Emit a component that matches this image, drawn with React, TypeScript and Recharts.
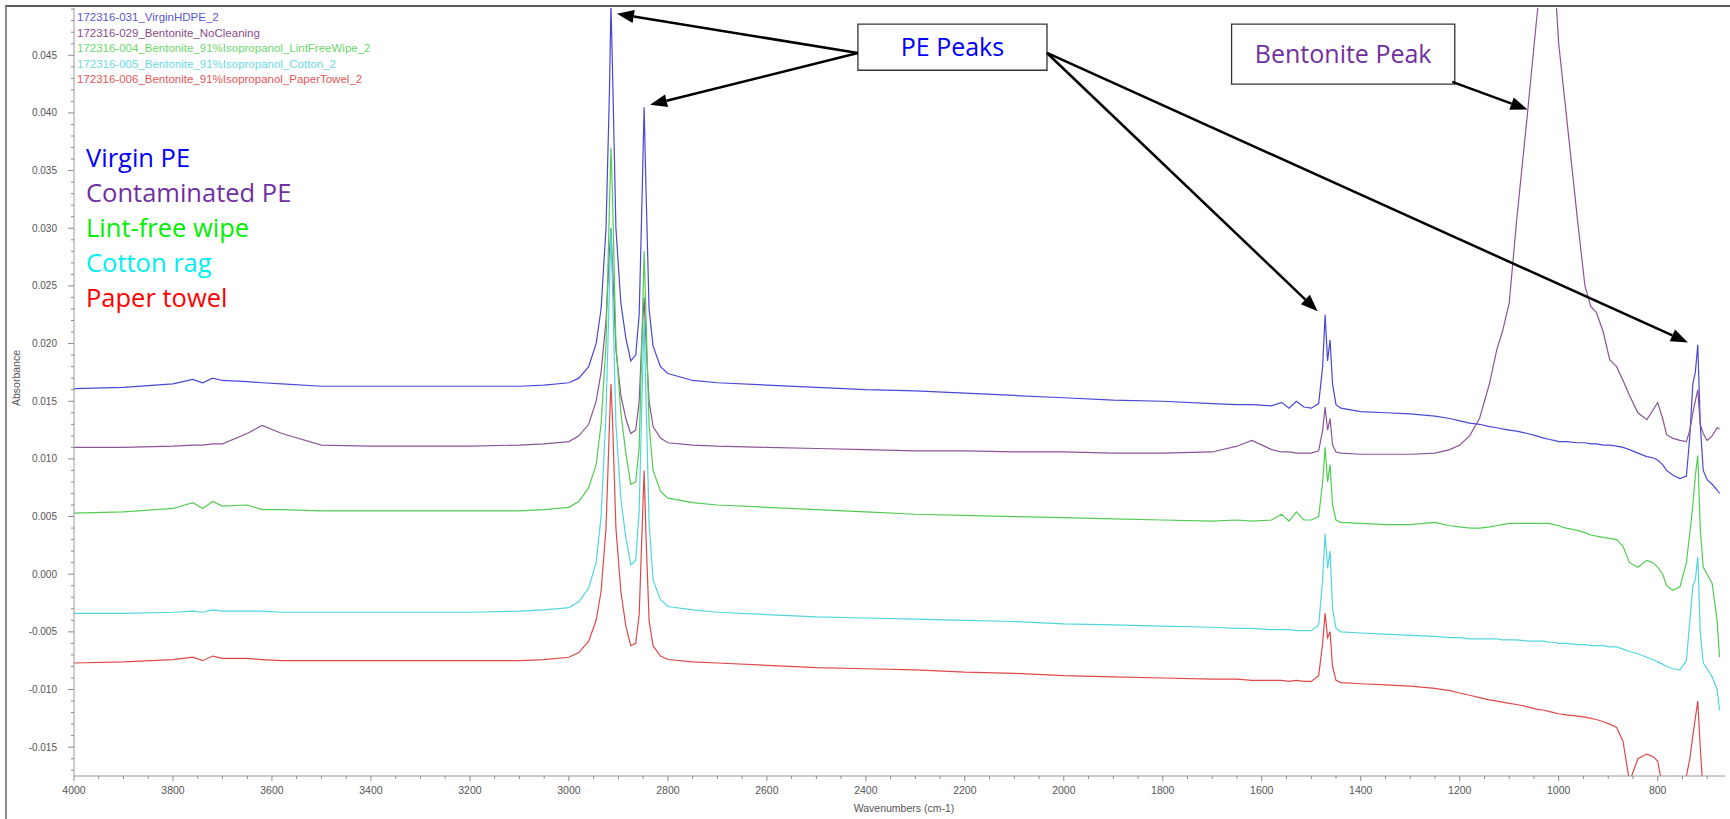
import React from 'react';
import {
  LineChart,
  Line,
  XAxis,
  YAxis,
  ReferenceArea,
  ReferenceLine,
} from 'recharts';

// wavenumber grid (cm-1), dense around the PE and bentonite bands
const wavenumbers = [
  4000, 3900, 3800, 3760, 3740, 3720, 3700, 3650, 3620, 3580,
  3500, 3400, 3300, 3200, 3100, 3050, 3000, 2980, 2960, 2945,
  2935, 2925, 2918, 2915, 2912, 2905, 2895, 2885, 2875, 2865,
  2858, 2852, 2848, 2844, 2838, 2830, 2815, 2800, 2750, 2700,
  2600, 2500, 2400, 2300, 2200, 2100, 2000, 1900, 1800, 1700,
  1650, 1620, 1580, 1560, 1545, 1530, 1515, 1500, 1485, 1477,
  1472, 1467, 1462, 1457, 1450, 1440, 1400, 1350, 1300, 1250,
  1220, 1200, 1180, 1160, 1140, 1125, 1114, 1100, 1085, 1063,
  1045, 1030, 1020, 1010, 1000, 985, 962, 947, 935, 924,
  910, 897, 883, 870, 857, 840, 822, 810, 800, 790,
  782, 770, 755, 742, 735, 729, 724, 719, 714, 708,
  700, 690, 680, 675,
];

const virginPE = [
  0.0161, 0.0162, 0.0165, 0.0169, 0.0166, 0.017, 0.0168, 0.0167, 0.0166, 0.0165,
  0.0163, 0.0163, 0.0163, 0.0163, 0.0163, 0.0164, 0.0166, 0.017, 0.018, 0.02,
  0.023, 0.03, 0.042, 0.0495, 0.044, 0.03, 0.0235, 0.0205, 0.0185, 0.019,
  0.0225, 0.033, 0.0405, 0.033, 0.023, 0.0198, 0.018, 0.0174, 0.0168, 0.0166,
  0.0164, 0.0162, 0.016, 0.0159, 0.0157, 0.0155, 0.0153, 0.0151, 0.015, 0.0148,
  0.0147, 0.0147, 0.0146, 0.0149, 0.0144, 0.015, 0.0145, 0.0144, 0.0148, 0.018,
  0.0225, 0.0185, 0.0203, 0.0165, 0.0147, 0.0144, 0.0141, 0.014, 0.0139, 0.0137,
  0.0135, 0.0133, 0.0131, 0.013, 0.0128, 0.0127, 0.0126, 0.0125, 0.0124, 0.0122,
  0.012, 0.0118, 0.0117, 0.0116, 0.0115, 0.0115, 0.0114, 0.0114, 0.0113, 0.0113,
  0.0112, 0.0112, 0.0111, 0.011, 0.0108, 0.0105, 0.0102, 0.0101, 0.0099, 0.0095,
  0.009, 0.0086, 0.0083, 0.0085, 0.012, 0.0165, 0.0175, 0.0199, 0.013, 0.009,
  0.0082, 0.0078, 0.0073, 0.007,
];

const contaminatedPE = [
  0.011, 0.011, 0.0111, 0.0112, 0.0112, 0.0113, 0.0113, 0.0122, 0.0129, 0.0122,
  0.0112, 0.0111, 0.0111, 0.0111, 0.0112, 0.0113, 0.0115, 0.012, 0.013, 0.015,
  0.0175, 0.022, 0.028, 0.03, 0.027, 0.0195, 0.0155, 0.0135, 0.0122, 0.0125,
  0.015, 0.021, 0.024, 0.02, 0.015, 0.0128, 0.0118, 0.0114, 0.0112, 0.0111,
  0.011, 0.0109, 0.0108, 0.0107, 0.0107, 0.0106, 0.0106, 0.0105, 0.0105, 0.0106,
  0.0111, 0.0116, 0.0108, 0.0106, 0.0106, 0.0105, 0.0105, 0.0105, 0.0107, 0.0125,
  0.0145, 0.0125, 0.0135, 0.0112, 0.0106, 0.0105, 0.0104, 0.0104, 0.0104, 0.0105,
  0.0108, 0.0112, 0.012, 0.0135, 0.0165, 0.0195, 0.021, 0.0235, 0.0307, 0.04,
  0.048, 0.054, 0.056, 0.053, 0.046, 0.04, 0.0307, 0.025, 0.0232, 0.0227,
  0.021, 0.0186, 0.018, 0.0168, 0.0155, 0.014, 0.0134, 0.0142, 0.0149, 0.0135,
  0.0121, 0.0118, 0.0116, 0.0115, 0.0125, 0.014, 0.015, 0.016, 0.013, 0.0122,
  0.0116, 0.012, 0.0127, 0.0126,
];

const lintFreeWipe = [
  0.0053, 0.0054, 0.0057, 0.0062, 0.0057, 0.0063, 0.0059, 0.006, 0.0056, 0.0056,
  0.0055, 0.0055, 0.0055, 0.0055, 0.0055, 0.0056, 0.0058, 0.0063, 0.0075, 0.0095,
  0.013, 0.02, 0.032, 0.037, 0.033, 0.02, 0.014, 0.0105, 0.0078, 0.008,
  0.011, 0.021, 0.028, 0.022, 0.013, 0.009, 0.0072, 0.0066, 0.0062, 0.006,
  0.0058, 0.0056, 0.0054, 0.0052, 0.0051, 0.005, 0.0049, 0.0048, 0.0047, 0.0046,
  0.0047, 0.0046, 0.0047, 0.0052, 0.0046, 0.0054, 0.0047, 0.0047, 0.005, 0.008,
  0.011, 0.008, 0.0095, 0.006, 0.0047, 0.0045, 0.0044, 0.0043, 0.0043, 0.0045,
  0.0042, 0.0041, 0.004, 0.004, 0.0041, 0.0042, 0.0043, 0.0044, 0.0044, 0.0044,
  0.0044, 0.0044, 0.0044, 0.0043, 0.0042, 0.004, 0.0038, 0.0036, 0.0034, 0.0033,
  0.0032, 0.0031, 0.003, 0.0024, 0.001, 0.0006, 0.0012, 0.001, 0.0006, 0.0,
  -0.001, -0.0014, -0.0011, 0.001, 0.0036, 0.006, 0.0085, 0.0103, 0.004, 0.0006,
  0.0, -0.0008, -0.004, -0.0072,
];

const cottonRag = [
  -0.0034, -0.0034, -0.0033, -0.0032, -0.0033, -0.0031, -0.0032, -0.0032, -0.0032, -0.0033,
  -0.0033, -0.0033, -0.0033, -0.0033, -0.0032, -0.0031, -0.0029, -0.0024, -0.0012, 0.001,
  0.005, 0.014, 0.025, 0.03, 0.025, 0.013, 0.0065, 0.0032, 0.0008, 0.0012,
  0.0055, 0.016, 0.022, 0.015, 0.0045, -0.0005, -0.0022, -0.0028, -0.0031, -0.0033,
  -0.0035, -0.0037, -0.0038, -0.0039, -0.004, -0.0041, -0.0043, -0.0044, -0.0045, -0.0046,
  -0.0047, -0.0047, -0.0048, -0.0048, -0.0048, -0.0049, -0.0049, -0.0049, -0.0044, -0.0005,
  0.0035, 0.0005, 0.002, -0.003, -0.0047, -0.005, -0.0051, -0.0052, -0.0053, -0.0054,
  -0.0055, -0.0055, -0.0056, -0.0056, -0.0056, -0.0056, -0.0057, -0.0057, -0.0057, -0.0058,
  -0.0058, -0.0058, -0.0059, -0.0059, -0.006, -0.006, -0.0061, -0.0061, -0.0062, -0.0062,
  -0.0062, -0.0063, -0.0063, -0.0065, -0.0067, -0.0069, -0.0072, -0.0074, -0.0076, -0.0078,
  -0.008, -0.0082, -0.0083, -0.0075, -0.004, -0.001, -0.0005, 0.0015, -0.005, -0.0077,
  -0.0082, -0.0089, -0.01, -0.0118,
];

const paperTowel = [
  -0.0077, -0.0076, -0.0074, -0.0072, -0.0075, -0.0071, -0.0073, -0.0073, -0.0074, -0.0075,
  -0.0075, -0.0075, -0.0075, -0.0075, -0.0075, -0.0074, -0.0072, -0.0068, -0.0058, -0.004,
  -0.0015, 0.004, 0.013, 0.0165, 0.0135, 0.004, -0.0015, -0.0045, -0.0062, -0.006,
  -0.0035, 0.004, 0.009, 0.003, -0.004, -0.0062, -0.0071, -0.0074, -0.0076, -0.0077,
  -0.0079, -0.0081, -0.0082, -0.0083, -0.0085, -0.0086, -0.0088, -0.0089, -0.009, -0.0091,
  -0.0091, -0.0092, -0.0092, -0.0092, -0.0093, -0.0092, -0.0093, -0.0093, -0.0088, -0.006,
  -0.0034, -0.0055, -0.005, -0.008, -0.0092, -0.0094, -0.0095, -0.0096, -0.0097, -0.0099,
  -0.0101, -0.0103, -0.0105, -0.0107, -0.0109, -0.011, -0.0111, -0.0112, -0.0113, -0.0115,
  -0.0117, -0.0118, -0.0119, -0.012, -0.0121, -0.0122, -0.0123, -0.0124, -0.0125, -0.0126,
  -0.0128, -0.013, -0.0133, -0.0145, -0.018, -0.016, -0.0156, -0.0158, -0.0162, -0.0185,
  -0.0195, -0.02, -0.0195, -0.0175, -0.016, -0.014, -0.0125, -0.011, -0.015, -0.019,
  -0.021, -0.0215, -0.022, -0.022,
];

const xMajorTicks = [4000, 3800, 3600, 3400, 3200, 3000, 2800, 2600, 2400, 2200, 2000, 1800, 1600, 1400, 1200, 1000, 800];
const yMajorTicks = [0.045, 0.04, 0.035, 0.03, 0.025, 0.02, 0.015, 0.01, 0.005, 0, -0.005, -0.01, -0.015];

const fileNames = [
  '172316-031_VirginHDPE_2',
  '172316-029_Bentonite_NoCleaning',
  '172316-004_Bentonite_91%Isopropanol_LintFreeWipe_2',
  '172316-005_Bentonite_91%Isopropanol_Cotton_2',
  '172316-006_Bentonite_91%Isopropanol_PaperTowel_2',
];
const sampleNames = ['Virgin PE', 'Contaminated PE', 'Lint-free wipe', 'Cotton rag', 'Paper towel'];
const lineColors = ['#4848d4', '#8c5498', '#52cc52', '#52d6de', '#e04848'];
const fileColors = ['#5858d0', '#8c4a8c', '#6cd86c', '#6cd8e8', '#e05858'];
const labelColors = ['#0000ff', '#7030a0', '#00ee00', '#00eeee', '#ff0000'];
const seriesKeys = ['virgin', 'contaminated', 'lint', 'cotton', 'paper'];

const rows = wavenumbers.map((w, i) => ({
  w,
  virgin: virginPE[i],
  contaminated: contaminatedPE[i],
  lint: lintFreeWipe[i],
  cotton: cottonRag[i],
  paper: paperTowel[i],
}));

// minor ticks: every 50 cm-1 and every 0.001 absorbance
const xTicks: number[] = [];
for (let w = 4000; w >= 700; w -= 50) xTicks.push(w);
const yTicks: number[] = [];
for (let k = -17; k <= 49; k++) yTicks.push(k / 1000);

// annotation boxes and arrows, in data coordinates
const boxes = [
  { text: 'PE Peaks', color: '#0000ff', x1: 2416, x2: 2034, y1: 0.0477, y2: 0.0437 },
  { text: 'Bentonite Peak', color: '#7030a0', x1: 1661, x2: 1210, y1: 0.0477, y2: 0.0425 },
];
const arrows = [
  { from: [2416, 0.0452], to: [2903, 0.0486] },
  { from: [2416, 0.0452], to: [2836, 0.0407] },
  { from: [2034, 0.0452], to: [1487, 0.0228] },
  { from: [2034, 0.0452], to: [739, 0.0201] },
  { from: [1215, 0.0427], to: [1063, 0.0403] },
];

const tickFont = 'Liberation Sans, Arial, sans-serif';

const XTick = (props: any) => {
  const { x, y, payload } = props;
  const major = xMajorTicks.includes(payload.value);
  return (
    <g>
      <line x1={x} y1={y} x2={x} y2={y + (major ? 5 : 3)} stroke="#8a8a8a" />
      {major && (
        <text x={x} y={y + 18} textAnchor="middle" fontSize={10.5} fill="#555" fontFamily={tickFont}>
          {payload.value}
        </text>
      )}
    </g>
  );
};

const YTick = (props: any) => {
  const { x, y, payload } = props;
  const v = payload.value as number;
  const major = yMajorTicks.some((t) => Math.abs(t - v) < 1e-7);
  return (
    <g>
      <line x1={x} y1={y} x2={x - (major ? 6 : 3)} y2={y} stroke="#8a8a8a" />
      {major && (
        <text x={x - 17} y={y + 3.5} textAnchor="end" fontSize={10} fill="#555" fontFamily={tickFont}>
          {v.toFixed(3)}
        </text>
      )}
    </g>
  );
};

const Arrow = (p: any) => {
  const { x1, y1, x2, y2 } = p;
  const ang = Math.atan2(y2 - y1, x2 - x1);
  const len = 17;
  const half = 6.5;
  const bx = x2 - len * Math.cos(ang);
  const by = y2 - len * Math.sin(ang);
  const px = -Math.sin(ang) * half;
  const py = Math.cos(ang) * half;
  return (
    <g>
      <line x1={x1} y1={y1} x2={bx} y2={by} stroke="#000" strokeWidth={2.5} />
      <polygon points={`${x2},${y2} ${bx + px},${by + py} ${bx - px},${by - py}`} fill="#000" />
    </g>
  );
};

export default function App() {
  return (
    <div
      style={{
        position: 'absolute',
        left: 0,
        top: 0,
        width: 1730,
        height: 819,
        background: '#fff',
        overflow: 'hidden',
      }}
    >
      {/* window frame */}
      <div style={{ position: 'absolute', left: 5, top: 5, width: 1740, height: 900, borderTop: '2px solid #5a5a5a', borderLeft: '2px solid #8a8a8a' }} />

      <LineChart
        width={1730}
        height={819}
        data={rows}
        margin={{ top: 8, right: 5, left: 0, bottom: 0 }}
        style={{ position: 'absolute', left: 0, top: 0 }}
      >
        <XAxis
          dataKey="w"
          type="number"
          domain={[664, 4000]}
          reversed
          allowDataOverflow
          ticks={xTicks}
          interval={0}
          height={43}
          tickSize={0}
          tickMargin={0}
          tick={<XTick />}
          axisLine={{ stroke: '#9a9a9a' }}
        />
        <YAxis
          type="number"
          domain={[-0.0175, 0.0491]}
          allowDataOverflow
          ticks={yTicks}
          interval={0}
          width={74}
          tickSize={0}
          tickMargin={0}
          tick={<YTick />}
          axisLine={{ stroke: '#9a9a9a' }}
        />
        {seriesKeys.map((k, i) => (
          <Line
            key={k}
            type="linear"
            dataKey={k}
            stroke={lineColors[i]}
            strokeWidth={1.2}
            dot={false}
            activeDot={false}
            isAnimationActive={false}
          />
        ))}
        {boxes.map((b) => (
          <ReferenceArea
            key={b.text}
            x1={b.x1}
            x2={b.x2}
            y1={b.y1}
            y2={b.y2}
            ifOverflow="visible"
            fill="#fff"
            fillOpacity={1}
            stroke="#333"
            strokeWidth={1.3}
            label={{ value: b.text, position: 'center', fill: b.color, fontSize: 25, fontFamily: 'Open Sans' }}
          />
        ))}
        {arrows.map((a, i) => (
          <ReferenceLine
            key={i}
            segment={[
              { x: a.from[0], y: a.from[1] },
              { x: a.to[0], y: a.to[1] },
            ]}
            ifOverflow="visible"
            shape={Arrow}
          />
        ))}
      </LineChart>

      {/* spectrum file names */}
      <div style={{ position: 'absolute', left: 77, top: 10, fontFamily: tickFont, fontSize: 11.5, lineHeight: '15.5px' }}>
        {fileNames.map((n, i) => (
          <div key={n} style={{ color: fileColors[i] }}>{n}</div>
        ))}
      </div>

      {/* sample labels */}
      <div style={{ position: 'absolute', left: 86, top: 140, fontFamily: 'Open Sans', fontSize: 25.5, lineHeight: '35px' }}>
        {sampleNames.map((n, i) => (
          <div key={n} style={{ color: labelColors[i] }}>{n}</div>
        ))}
      </div>

      {/* axis titles */}
      <div
        style={{
          position: 'absolute',
          left: 16,
          top: 378,
          transform: 'translate(-50%, -50%) rotate(-90deg)',
          fontFamily: tickFont,
          fontSize: 10.5,
          color: '#555',
          whiteSpace: 'nowrap',
        }}
      >
        Absorbance
      </div>
      <div
        style={{
          position: 'absolute',
          left: 904,
          top: 808,
          transform: 'translate(-50%, -50%)',
          fontFamily: tickFont,
          fontSize: 10.5,
          color: '#555',
          whiteSpace: 'nowrap',
        }}
      >
        Wavenumbers (cm-1)
      </div>
    </div>
  );
}
